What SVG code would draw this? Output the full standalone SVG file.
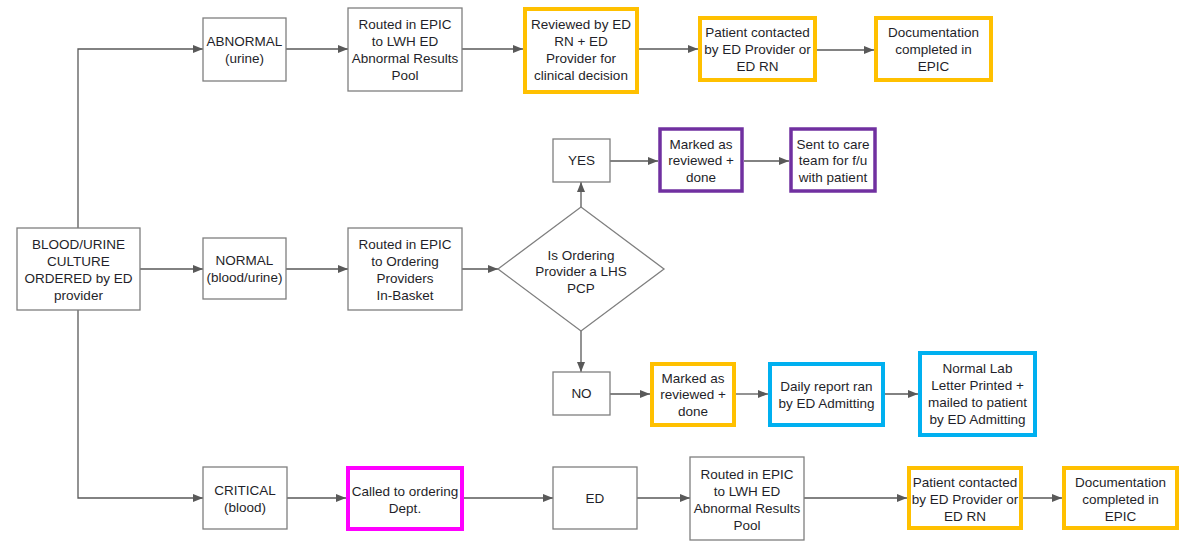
<svg xmlns="http://www.w3.org/2000/svg" width="1191" height="541" viewBox="0 0 1191 541">
<style>
.box{fill:#fff;stroke:#7f7f7f;stroke-width:1.3}
.org{fill:#fff;stroke:#FFC000;stroke-width:4}
.pur{fill:#fff;stroke:#7030A0;stroke-width:3.5}
.blu{fill:#fff;stroke:#00B0F0;stroke-width:4}
.mag{fill:#fff;stroke:#FF00FF;stroke-width:4}
text{font-family:"Liberation Sans",Arial,sans-serif;font-size:13.5px;fill:#1f1f2a;text-anchor:middle}
.c{fill:none;stroke:#595959;stroke-width:1.3;marker-end:url(#ah)}
</style>
<defs>
<marker id="ah" markerUnits="userSpaceOnUse" markerWidth="10" markerHeight="8" refX="10" refY="4" orient="auto">
<path d="M0,0 L10,4 L0,8 z" fill="#595959"/>
</marker>
</defs>
<rect width="1191" height="541" fill="#fff"/>
<g id="connectors">
<path class="c" d="M78,228 V49 H203"/>
<path class="c" d="M140,269 H203"/>
<path class="c" d="M78,310 V498 H203"/>
<path class="c" d="M286,49 H348"/>
<path class="c" d="M462,49 H523"/>
<path class="c" d="M639,49 H698"/>
<path class="c" d="M817,50 H874"/>
<path class="c" d="M286,269 H348"/>
<path class="c" d="M462,269 H498"/>
<path class="c" d="M581,207 V182"/>
<path class="c" d="M610,161 H658"/>
<path class="c" d="M744,161 H789"/>
<path class="c" d="M581,331 V372"/>
<path class="c" d="M610,394 H650"/>
<path class="c" d="M736,394 H768"/>
<path class="c" d="M885,394 H918"/>
<path class="c" d="M287,498 H346"/>
<path class="c" d="M464,498 H553"/>
<path class="c" d="M637,498 H690"/>
<path class="c" d="M804,498 H907"/>
<path class="c" d="M1023,498 H1062"/>
</g>
<g id="start"><rect class="box" x="17" y="228" width="123" height="82"/>
<text x="78.5" y="248.5">BLOOD/URINE</text><text x="78.5" y="265.5">CULTURE</text><text x="78.5" y="282.5">ORDERED by ED</text><text x="78.5" y="299.5">provider</text></g>
<g id="abnormal"><rect class="box" x="203" y="18" width="83" height="63"/>
<text x="244.5" y="46">ABNORMAL</text><text x="244.5" y="63">(urine)</text></g>
<g id="routed1"><rect class="box" x="348" y="8" width="114" height="83"/>
<text x="405" y="29">Routed in EPIC</text><text x="405" y="46">to LWH ED</text><text x="405" y="63">Abnormal Results</text><text x="405" y="80">Pool</text></g>
<g id="reviewed"><rect class="org" x="525" y="9" width="112" height="83"/>
<text x="581" y="29">Reviewed by ED</text><text x="581" y="46">RN + ED</text><text x="581" y="63">Provider for</text><text x="581" y="80">clinical decision</text></g>
<g id="patient1"><rect class="org" x="700" y="18" width="115" height="62"/>
<text x="757.5" y="37">Patient contacted</text><text x="757.5" y="54">by ED Provider or</text><text x="757.5" y="71">ED RN</text></g>
<g id="doc1"><rect class="org" x="876" y="18" width="115" height="62"/>
<text x="933.5" y="37">Documentation</text><text x="933.5" y="54">completed in</text><text x="933.5" y="71">EPIC</text></g>
<g id="normal"><rect class="box" x="203" y="238" width="83" height="61"/>
<text x="244.5" y="265">NORMAL</text><text x="244.5" y="282">(blood/urine)</text></g>
<g id="routed2"><rect class="box" x="348" y="228" width="114" height="82"/>
<text x="405" y="248.5">Routed in EPIC</text><text x="405" y="265.5">to Ordering</text><text x="405" y="282.5">Providers</text><text x="405" y="299.5">In-Basket</text></g>
<g id="decision"><polygon class="box" points="498,269 581,207 664,269 581,331"/>
<text x="581" y="259.5">Is Ordering</text><text x="581" y="276">Provider a LHS</text><text x="581" y="292.5">PCP</text></g>
<g id="yes"><rect class="box" x="553" y="139" width="57" height="43"/>
<text x="581.5" y="165">YES</text></g>
<g id="marked1"><rect class="pur" x="660" y="129" width="82" height="62"/>
<text x="701" y="148.5">Marked as</text><text x="701" y="165">reviewed +</text><text x="701" y="181.5">done</text></g>
<g id="sent"><rect class="pur" x="791" y="129" width="84" height="62"/>
<text x="833" y="148.5">Sent to care</text><text x="833" y="165">team for f/u</text><text x="833" y="181.5">with patient</text></g>
<g id="no"><rect class="box" x="553" y="372" width="57" height="43"/>
<text x="581.5" y="398">NO</text></g>
<g id="marked2"><rect class="org" x="652" y="364" width="82" height="61"/>
<text x="693" y="382.5">Marked as</text><text x="693" y="399">reviewed +</text><text x="693" y="415.5">done</text></g>
<g id="daily"><rect class="blu" x="770" y="364" width="113" height="61"/>
<text x="826.5" y="391">Daily report ran</text><text x="826.5" y="408">by ED Admitting</text></g>
<g id="letter"><rect class="blu" x="920" y="353" width="115" height="82"/>
<text x="977.5" y="373">Normal Lab</text><text x="977.5" y="390">Letter Printed +</text><text x="977.5" y="407">mailed to patient</text><text x="977.5" y="424">by ED Admitting</text></g>
<g id="critical"><rect class="box" x="203" y="467" width="84" height="62"/>
<text x="245" y="495">CRITICAL</text><text x="245" y="512">(blood)</text></g>
<g id="called"><rect class="mag" x="348" y="468" width="114" height="61"/>
<text x="405" y="495.5">Called to ordering</text><text x="405" y="512.5">Dept.</text></g>
<g id="ed"><rect class="box" x="553" y="467" width="84" height="62"/>
<text x="595" y="503">ED</text></g>
<g id="routed3"><rect class="box" x="690" y="457" width="114" height="83"/>
<text x="747" y="478.5">Routed in EPIC</text><text x="747" y="495.5">to LWH ED</text><text x="747" y="512.5">Abnormal Results</text><text x="747" y="529.5">Pool</text></g>
<g id="patient2"><rect class="org" x="909" y="468" width="112" height="60"/>
<text x="965" y="486.5">Patient contacted</text><text x="965" y="503.5">by ED Provider or</text><text x="965" y="520.5">ED RN</text></g>
<g id="doc2"><rect class="org" x="1064" y="468" width="113" height="60"/>
<text x="1120.5" y="486.5">Documentation</text><text x="1120.5" y="503.5">completed in</text><text x="1120.5" y="520.5">EPIC</text></g>
</svg>
